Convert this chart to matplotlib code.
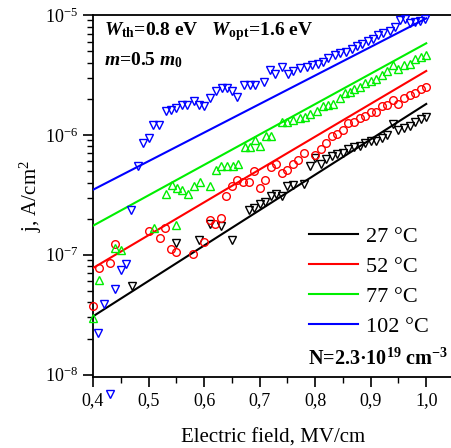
import numpy as np
import matplotlib
matplotlib.use("Agg")
import matplotlib.pyplot as plt
from matplotlib.ticker import FixedLocator, FuncFormatter, LogLocator, NullFormatter

plt.rcParams['font.family'] = ['Liberation Serif', 'DejaVu Serif']
plt.rcParams['mathtext.fontset'] = 'custom'
plt.rcParams['mathtext.rm'] = 'Liberation Serif'
plt.rcParams['mathtext.it'] = 'Liberation Serif:italic:bold'
plt.rcParams['mathtext.bf'] = 'Liberation Serif:bold'

# ---------------- data (log10 of j, A/cm^2) ----------------
black_E = [0.47, 0.55, 0.59, 0.61, 0.63, 0.65, 0.68, 0.69, 0.70, 0.71, 0.72, 0.73, 0.74, 0.75,
           0.76, 0.78, 0.79, 0.80, 0.81, 0.82, 0.83, 0.84, 0.85, 0.86, 0.87, 0.88, 0.89, 0.90,
           0.91, 0.92, 0.93, 0.94, 0.95, 0.96, 0.97, 0.98, 0.99, 1.00]
black_logj = [-7.26, -6.90, -6.88, -6.74, -6.76, -6.88, -6.63, -6.61, -6.58, -6.56, -6.51, -6.49,
              -6.51, -6.43, -6.42, -6.41, -6.26, -6.19, -6.24, -6.20, -6.18, -6.16, -6.15, -6.12,
              -6.10, -6.09, -6.07, -6.05, -6.05, -6.03, -6.00, -5.91, -5.96, -5.94, -5.93, -5.89,
              -5.87, -5.85]

red_E = [0.400, 0.411, 0.430, 0.439, 0.500, 0.520, 0.530, 0.540, 0.550, 0.580, 0.600, 0.610,
         0.620, 0.630, 0.640, 0.650, 0.660, 0.670, 0.680, 0.690, 0.700, 0.710, 0.720, 0.730,
         0.740, 0.750, 0.760, 0.770, 0.780, 0.800, 0.810, 0.820, 0.830, 0.840, 0.850, 0.860,
         0.870, 0.880, 0.890, 0.900, 0.910, 0.920, 0.930, 0.940, 0.950, 0.960, 0.970, 0.980,
         0.990, 1.000]
red_logj = [-7.43, -7.11, -7.07, -6.91, -6.80, -6.86, -6.78, -6.95, -6.98, -6.99, -6.89, -6.71,
            -6.74, -6.69, -6.51, -6.43, -6.38, -6.39, -6.39, -6.30, -6.44, -6.38, -6.27, -6.24,
            -6.32, -6.29, -6.24, -6.21, -6.15, -6.17, -6.12, -6.07, -6.01, -5.99, -5.96, -5.90,
            -5.89, -5.86, -5.84, -5.81, -5.81, -5.76, -5.75, -5.71, -5.74, -5.69, -5.67, -5.65,
            -5.62, -5.60]

green_E = [0.400, 0.411, 0.439, 0.451, 0.510, 0.531, 0.542, 0.550, 0.551, 0.560, 0.571, 0.581,
           0.592, 0.610, 0.622, 0.631, 0.641, 0.652, 0.661, 0.673, 0.682, 0.691, 0.700, 0.712,
           0.721, 0.740, 0.750, 0.761, 0.772, 0.782, 0.791, 0.803, 0.814, 0.824, 0.833, 0.845,
           0.854, 0.863, 0.870, 0.880, 0.890, 0.900, 0.910, 0.920, 0.930, 0.940, 0.950, 0.960,
           0.970, 0.980, 0.990, 1.000]
green_logj = [-7.53, -7.21, -6.94, -6.96, -6.78, -6.49, -6.42, -6.75, -6.44, -6.46, -6.49, -6.43,
              -6.39, -6.43, -6.29, -6.26, -6.26, -6.26, -6.24, -6.10, -6.10, -6.04, -6.09, -6.01,
              -6.01, -5.89, -5.89, -5.88, -5.86, -5.85, -5.83, -5.80, -5.76, -5.75, -5.74, -5.69,
              -5.65, -5.64, -5.62, -5.60, -5.57, -5.55, -5.53, -5.50, -5.47, -5.42, -5.45, -5.42,
              -5.41, -5.37, -5.35, -5.33]

blue_E = [0.409, 0.419, 0.430, 0.439, 0.450, 0.460, 0.469, 0.481, 0.490, 0.500, 0.508, 0.518,
          0.531, 0.540, 0.550, 0.560, 0.569, 0.581, 0.590, 0.600, 0.611, 0.622, 0.632, 0.641,
          0.650, 0.659, 0.672, 0.682, 0.692, 0.708, 0.719, 0.728, 0.740, 0.752, 0.761, 0.773,
          0.785, 0.794, 0.805, 0.815, 0.824, 0.836, 0.845, 0.856, 0.866, 0.875, 0.884, 0.896,
          0.905, 0.914, 0.923, 0.935, 0.944, 0.953, 0.962, 0.971, 0.980, 0.989, 0.998]
blue_logj = [-7.65, -7.41, -8.16, -7.29, -7.13, -7.08, -6.63, -6.26, -6.07, -6.03, -5.92, -5.92,
             -5.80, -5.79, -5.78, -5.75, -5.75, -5.72, -5.75, -5.76, -5.69, -5.63, -5.61, -5.61,
             -5.63, -5.68, -5.58, -5.58, -5.58, -5.56, -5.46, -5.49, -5.43, -5.49, -5.47, -5.44,
             -5.43, -5.42, -5.41, -5.39, -5.36, -5.33, -5.32, -5.31, -5.28, -5.26, -5.24, -5.22,
             -5.20, -5.17, -5.15, -5.13, -5.10, -5.04, -5.03, -5.07, -5.06, -5.05, -5.03]

# fitted lines: endpoints (E, log10 j)
fit_E = [0.40, 1.00]
black_fit = [-7.514, -5.742]
red_fit = [-7.111, -5.467]
green_fit = [-6.758, -5.236]
blue_fit = [-6.458, -5.028]

labels = ['27 °C', '52 °C', '77 °C', '102 °C']
colors = ['#000000', '#ff0000', '#00ee00', '#0000ff']
x_ticks = [0.4, 0.5, 0.6, 0.7, 0.8, 0.9, 1.0]
x_ticklabels = ['0,4', '0,5', '0,6', '0,7', '0,8', '0,9', '1,0']
y_ticks = [1e-8, 1e-7, 1e-6, 1e-5]

# ---------------- figure ----------------
fig = plt.figure(figsize=(4.52, 4.48), dpi=100)
ax = fig.add_axes([93/452, 71/448, 361/452, 362/448])
ax.set_yscale('log')

series = [(black_E, black_logj, 'v'), (red_E, red_logj, 'o'),
          (green_E, green_logj, '^'), (blue_E, blue_logj, 'v')]
fits = [black_fit, red_fit, green_fit, blue_fit]

for (E, lj, mk), fit, c, lab in zip(series, fits, colors, labels):
    ax.plot(fit_E, 10**np.array(fit), color=c, lw=1.5, label=lab, zorder=3)
    ax.plot(E, 10**np.array(lj), linestyle='none', marker=mk, ms=6 if mk != 'o' else 5.5,
            mfc='none', mec=c, mew=1.0, clip_on=False, zorder=4)

ax.set_xlim(0.4, 1.05)
ax.set_ylim(10**(-8.02), 1e-5)

ax.xaxis.set_major_locator(FixedLocator(x_ticks))
ax.set_xticklabels(x_ticklabels)
ax.xaxis.set_minor_locator(FixedLocator([0.45, 0.55, 0.65, 0.75, 0.85, 0.95]))
ax.yaxis.set_major_locator(FixedLocator(y_ticks))
ax.yaxis.set_major_formatter(FuncFormatter(lambda v, p: r'$\mathregular{10^{%d}}$' % int(round(np.log10(v)))))
ax.yaxis.set_minor_locator(LogLocator(base=10, subs=np.arange(2, 10)))
ax.yaxis.set_minor_formatter(NullFormatter())

ax.tick_params(axis='both', which='major', direction='out', length=7, width=1.2, labelsize=13,
               colors='black', top=False, right=False)
ax.tick_params(axis='both', which='minor', direction='out', length=4, width=1.0, top=False, right=False)
ax.tick_params(axis='x', pad=4)
for s in ['left', 'bottom', 'top']:
    ax.spines[s].set_linewidth(1.3)
ax.spines['right'].set_visible(False)

ax.set_xlabel('Electric field, MV/cm', fontsize=15, labelpad=14)
ax.set_ylabel(r'j, A/cm$^\mathregular{2}$', fontsize=15, labelpad=1)

ax.text(0.03, 0.945, r'$W_{\mathbf{th}}$=0.8 eV   $W_{\mathbf{opt}}$=1.6 eV', transform=ax.transAxes,
        fontsize=14, fontweight='bold', va='baseline')
ax.text(0.03, 0.86, r'$m$=0.5 $m_{\mathbf{0}}$', transform=ax.transAxes,
        fontsize=14, fontweight='bold', va='baseline')
ax.text(0.595, 0.035, r'N=2.3·10$^{\mathbf{19}}$ cm$^{\mathbf{-3}}$', transform=ax.transAxes,
        fontsize=14.5, fontweight='bold', va='baseline')

leg = ax.legend(loc='upper left', bbox_to_anchor=(0.575, 0.44), frameon=False, fontsize=16,
                handlelength=2.2, handletextpad=0.35, labelspacing=0.42, borderaxespad=0)

fig.savefig('out.png', dpi=100)
